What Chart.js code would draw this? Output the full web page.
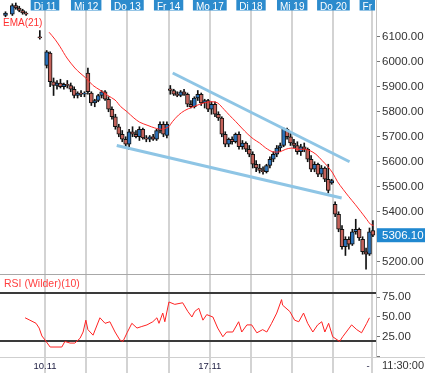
<!DOCTYPE html>
<html>
<head>
<meta charset="utf-8">
<script src="https://cdn.jsdelivr.net/npm/chart.js@4.4.1/dist/chart.umd.min.js"></script>
<style>
  html, body { margin: 0; padding: 0; background: #fff; }
  #wrap { position: relative; width: 425px; height: 373px; overflow: hidden; }
  #priceChart { position: absolute; left: 0; top: 0; }
  #rsiChart { position: absolute; left: 0; top: 275px; }
</style>
</head>
<body>
<div id="wrap">
  <canvas id="priceChart" width="425" height="275"></canvas>
  <canvas id="rsiChart" width="425" height="98"></canvas>
</div>
<script>
// Intraday candles, Mo 10.11 - Do 20.11 (12 slots per day)

const dayLabels = ["Di 11", "Mi 12", "Do 13", "Fr 14", "Mo 17", "Di 18", "Mi 19", "Do 20", "Fr"];
const dayStarts = [11.5, 23.5, 35.5, 47.5, 59.5, 71.5, 83.5, 95.5, 106.6];
const dateLabels = ["10.11", "17.11"];
const dateStarts = [11.5, 59.5];

const priceTicks = [5200, 5300, 5400, 5500, 5600, 5700, 5800, 5900, 6000, 6100];
const rsiTicks = [0, 25, 50, 75];
const rsiLevels = [80, 20];
const lastPrice = 5306.10;
const lastTime = "11:30:00";

const opens = [6185, null, 6190, 6225, 6215, 6205, 6195, null, null, null, 6100, null,
  5985, 6035, 5920, 5905, 5915, 5900, 5910, 5905, 5890, 5865, 5875, 5870,
  5955, 5875, 5835, 5845, 5865, 5880, 5850, 5810, 5780, 5740, 5710, 5690,
  5670, 5720, 5710, 5700, 5730, 5695, 5690, 5700, 5690, 5725, 5750, 5705,
  5892, 5885, 5870, 5865, 5880, 5870, 5830, 5820, 5855, 5870, 5835, 5845,
  5810, 5830, 5790, 5775, 5710, 5670, 5690, 5680, 5710, 5660, 5675, 5650,
  5630, 5590, 5575, 5565, 5560, 5585, 5610, 5630, 5655, 5665, 5730, 5700,
  5675, 5665, 5640, 5660, 5650, 5610, 5570, 5590, 5550, 5575, 5530, 5515,
  5430, 5390, 5330, 5260, 5290, 5270, 5320, 5330, 5290, 5240, 5230, 5325];
const highs = [6200, null, 6232, 6235, 6222, 6210, 6200, null, null, null, 6125, null,
  6045, 6040, 5935, 5925, 5930, 5915, 5925, 5915, 5900, 5880, 5885, 5880,
  5975, 5880, 5850, 5870, 5885, 5885, 5860, 5820, 5790, 5750, 5725, 5700,
  5730, 5740, 5725, 5740, 5735, 5705, 5705, 5710, 5730, 5760, 5760, 5760,
  5905, 5890, 5880, 5885, 5890, 5875, 5845, 5860, 5885, 5875, 5850, 5850,
  5840, 5840, 5800, 5780, 5720, 5695, 5700, 5715, 5720, 5685, 5680, 5665,
  5640, 5605, 5590, 5580, 5590, 5620, 5640, 5665, 5675, 5735, 5735, 5715,
  5690, 5680, 5670, 5675, 5655, 5625, 5600, 5595, 5585, 5580, 5590, 5530,
  5440, 5400, 5345, 5300, 5300, 5330, 5370, 5335, 5300, 5255, 5335, 5365];
const lows = [6180, null, 6185, 6210, 6200, 6190, 6185, null, null, null, 6090, null,
  5975, 5900, 5865, 5890, 5895, 5890, 5895, 5880, 5855, 5855, 5860, 5860,
  5870, 5825, 5820, 5840, 5855, 5845, 5800, 5770, 5730, 5700, 5680, 5660,
  5648, 5700, 5695, 5685, 5690, 5680, 5680, 5685, 5685, 5715, 5700, 5695,
  5870, 5865, 5860, 5860, 5865, 5820, 5815, 5815, 5845, 5825, 5815, 5800,
  5790, 5780, 5765, 5700, 5660, 5660, 5670, 5675, 5650, 5650, 5640, 5620,
  5575, 5560, 5555, 5550, 5555, 5575, 5600, 5620, 5640, 5660, 5690, 5665,
  5655, 5630, 5625, 5640, 5600, 5560, 5560, 5540, 5540, 5520, 5475, 5510,
  5380, 5320, 5250, 5225, 5250, 5265, 5310, 5285, 5230, 5170, 5225, 5300];
const closes = [6195, null, 6225, 6215, 6205, 6195, 6190, null, null, null, 6095, null,
  6040, 5920, 5905, 5915, 5900, 5910, 5905, 5890, 5865, 5875, 5870, 5875,
  5880, 5835, 5845, 5865, 5880, 5850, 5810, 5780, 5740, 5710, 5690, 5670,
  5720, 5710, 5700, 5730, 5695, 5690, 5700, 5690, 5725, 5750, 5710, 5750,
  5885, 5870, 5865, 5880, 5870, 5830, 5820, 5855, 5870, 5835, 5845, 5810,
  5830, 5790, 5775, 5710, 5670, 5690, 5680, 5710, 5660, 5675, 5650, 5630,
  5590, 5575, 5565, 5560, 5585, 5610, 5630, 5655, 5665, 5730, 5700, 5675,
  5665, 5640, 5660, 5650, 5610, 5570, 5590, 5550, 5575, 5530, 5485, 5525,
  5390, 5330, 5260, 5290, 5270, 5320, 5330, 5295, 5240, 5230, 5320, 5306];

// EMA(21)
const emaSlots = [12.7, 14.4, 15.9, 17.9, 20.2, 21.7, 23.4, 25.5, 27.5, 29.8, 31.9, 33.6, 35.4, 37.4,
  39.1, 41.5, 43.5, 45.5, 47.5, 48.6, 50.4, 52.2, 54.3, 56.6, 58.6, 60.4, 61.8, 63.6, 65.3, 67.1,
  68.8, 70.6, 72.3, 74.0, 75.8, 77.8, 79.9, 81.6, 83.4, 85.1, 87.1, 88.6, 90.4, 92.2, 93.9, 95.3,
  96.7, 98.3, 100.0, 101.8, 103.5, 104.9, 106.3, 107.2];
const emaValues = [6118, 6090, 6060, 6015, 5975, 5955, 5935, 5905, 5887, 5865, 5847, 5820, 5800, 5775,
  5758, 5745, 5735, 5730, 5740, 5760, 5787, 5805, 5818, 5830, 5838, 5840, 5835, 5810, 5785, 5760,
  5735, 5710, 5690, 5675, 5655, 5640, 5640, 5650, 5655, 5650, 5650, 5645, 5630, 5605, 5580, 5555,
  5520, 5490, 5460, 5430, 5400, 5375, 5350, 5345];

// trend channel
const upperSlots = [48.7, 100.2];
const upperValues = [5955, 5600];
const lowerSlots = [32.4, 97.9];
const lowerValues = [5665, 5455];

// RSI (Wilder)(10)
const rsiSlots = [5.7, 7.1, 8.9, 9.8, 10.6, 11.5, 13, 16.4, 17.3, 18.8, 20.2, 21.7, 22.6, 23.4, 24,
  25.5, 27.5, 29, 30.4, 31.9, 33.3, 34.2, 35.4, 36.8, 38.3, 39.7, 41.2, 42.9, 44.1, 44.7,
  45.8, 46.4, 47.6, 49.3, 51.6, 53.1, 54.3, 55.1, 56.3, 57.5, 58.6, 60.4, 61.8, 63.3, 64.4,
  66.2, 67.9, 68.8, 70.3, 71.7, 73.2, 74.9, 76.1, 77.5, 79, 80.4, 80.7, 82.8, 84.2, 85.4,
  86.8, 88, 89.5, 90.9, 92.1, 93, 94.1, 95.3, 97.3, 98.2, 100.8, 102.3, 103.7, 105.2, 106];
const rsiValues = [49, 46, 42, 36, 26, 21, 12, 12, 19, 17, 17, 23, 31, 46, 34,
  27, 49, 42, 44, 31, 21, 19, 30, 42, 36, 38, 40, 44, 49, 42,
  55, 44, 69, 66, 68, 57, 50, 57, 61, 46, 53, 50, 36, 25, 31,
  31, 44, 31, 40, 40, 30, 34, 31, 42, 55, 72, 65, 57, 46, 44,
  55, 42, 31, 40, 44, 31, 42, 25, 19, 25, 40, 34, 30, 42, 49];

const FONT = "'Liberation Sans', Arial, sans-serif";
const X_MIN = -1.6, X_MAX = 107.9;

const wicks = [], bodies = [], bodyColors = [];
opens.forEach((o, i) => {
  if (o === null) return;
  wicks.push({ x: i, y: [lows[i], highs[i]] });
  bodies.push({ x: i, y: [o, closes[i]] });
  bodyColors.push(closes[i] > o ? "#2b73bb" : (closes[i] < o ? "#c4625a" : "#999"));
});
const pts = (xs, ys) => xs.map((v, i) => ({ x: v, y: ys[i] }));

// keep the plot area flush with the canvas edges
function fitRightAxis(s) {
  s.width = 49;
  s.paddingTop = 0;
  s.paddingBottom = 0;
}

function drawDayLines(chart) {
  const { ctx, scales: { x } } = chart;
  ctx.save();
  ctx.strokeStyle = "#d3d3d3";
  ctx.lineWidth = 2;
  dayStarts.forEach(d => {
    const px = Math.round(x.getPixelForValue(d));
    ctx.beginPath();
    ctx.moveTo(px, 0);
    ctx.lineTo(px, chart.height);
    ctx.stroke();
  });
  ctx.restore();
}

const priceDecor = {
  id: "priceDecor",
  beforeDatasetsDraw(chart) { drawDayLines(chart); },
  afterDraw(chart) {
    const { ctx, chartArea, scales: { x, y } } = chart;
    ctx.save();
    // day header boxes
    ctx.font = "10px " + FONT;
    ctx.textBaseline = "alphabetic";
    dayLabels.forEach((lab, i) => {
      const px = x.getPixelForValue(dayStarts[i]);
      const w = ctx.measureText(lab).width + 6;
      let left = px - w / 2;
      if (left + w > chartArea.right - 1) left = chartArea.right - 1 - w;
      ctx.fillStyle = "#2c8bcd";
      ctx.fillRect(left, 0, w, 10.5);
      ctx.fillStyle = "#fff";
      ctx.fillText(lab, left + 3, 9.5);
    });
    // indicator label
    ctx.fillStyle = "#ff3030";
    ctx.fillText("EMA(21)", 3, 26);
    // last price box
    const py = y.getPixelForValue(lastPrice);
    ctx.fillStyle = "#2088d0";
    ctx.fillRect(chartArea.right + 1, py - 7, chart.width - chartArea.right - 1, 14);
    ctx.fillStyle = "#fff";
    ctx.font = "11.5px " + FONT;
    ctx.textBaseline = "middle";
    ctx.fillText(lastPrice.toFixed(2), chartArea.right + 6, py + 0.5);
    // panel separator
    ctx.strokeStyle = "#a8a8a8";
    ctx.lineWidth = 1;
    ctx.beginPath();
    ctx.moveTo(0, chartArea.bottom + 0.5);
    ctx.lineTo(chart.width, chartArea.bottom + 0.5);
    ctx.stroke();
    ctx.restore();
  }
};

new Chart(document.getElementById("priceChart"), {
  type: "bar",
  data: {
    datasets: [
      { type: "line", data: pts(upperSlots, upperValues), borderColor: "#8ec5e5", borderWidth: 3, pointRadius: 0, order: 0 },
      { type: "line", data: pts(lowerSlots, lowerValues), borderColor: "#8ec5e5", borderWidth: 3, pointRadius: 0, order: 0 },
      { type: "line", data: pts(emaSlots, emaValues), borderColor: "#ff2a2a", borderWidth: 1, pointRadius: 0, tension: 0.3, order: 1 },
      { type: "bar", data: bodies, backgroundColor: bodyColors, borderColor: "#111", borderWidth: 1,
        borderSkipped: false, barThickness: 4, grouped: false, order: 2 },
      { type: "bar", data: wicks, backgroundColor: "#111", barThickness: 1, grouped: false, order: 3 }
    ]
  },
  options: {
    responsive: false,
    animation: false,
    layout: { padding: { top: 0, left: 0, right: 0, bottom: 1 } },
    plugins: { legend: { display: false }, tooltip: { enabled: false } },
    scales: {
      x: { type: "linear", min: X_MIN, max: X_MAX, offset: false, display: false },
      y: {
        position: "right",
        min: 5151, max: 6247,
        afterFit: fitRightAxis,
        afterBuildTicks(s) { s.ticks = priceTicks.map(v => ({ value: v })); },
        grid: { drawOnChartArea: false, drawTicks: true, tickLength: 4, color: "#777" },
        border: { display: true, color: "#c4c4c4" },
        ticks: { padding: 2, color: "#333", font: { family: FONT, size: 11.5 },
          callback: v => Number(v).toFixed(2) }
      }
    }
  },
  plugins: [priceDecor]
});

const rsiDecor = {
  id: "rsiDecor",
  beforeDatasetsDraw(chart) {
    drawDayLines(chart);
    const { ctx, chartArea, scales: { y } } = chart;
    ctx.save();
    ctx.strokeStyle = "#3a3a3a";
    ctx.lineWidth = 2;
    rsiLevels.forEach(l => {
      const py = Math.round(y.getPixelForValue(l));
      ctx.beginPath();
      ctx.moveTo(chartArea.left, py);
      ctx.lineTo(chartArea.right, py);
      ctx.stroke();
    });
    ctx.restore();
  },
  afterDraw(chart) {
    const { ctx, chartArea, scales: { x } } = chart;
    ctx.save();
    ctx.font = "10.5px " + FONT;
    ctx.fillStyle = "#ff4040";
    ctx.fillText("RSI (Wilder)(10)", 4, 12);
    ctx.strokeStyle = "#cfcfcf";
    ctx.lineWidth = 1;
    ctx.beginPath();
    ctx.moveTo(0, chartArea.bottom + 0.5);
    ctx.lineTo(chart.width, chartArea.bottom + 0.5);
    ctx.stroke();
    ctx.fillStyle = "#1c1c40";
    ctx.font = "9.5px " + FONT;
    ctx.textAlign = "center";
    dateLabels.forEach((lab, i) => {
      ctx.fillText(lab, x.getPixelForValue(dateStarts[i]), chartArea.bottom + 12);
    });
    ctx.fillText("-", chartArea.right - 8, chartArea.bottom + 12);
    ctx.textAlign = "left";
    ctx.fillStyle = "#333";
    ctx.font = "11px " + FONT;
    ctx.fillText(lastTime, chartArea.right + 6, chartArea.bottom + 12);
    ctx.restore();
  }
};

new Chart(document.getElementById("rsiChart"), {
  type: "line",
  data: {
    datasets: [
      { data: pts(rsiSlots, rsiValues), borderColor: "#ff2222", borderWidth: 1, pointRadius: 0 }
    ]
  },
  options: {
    responsive: false,
    animation: false,
    layout: { padding: 0 },
    plugins: { legend: { display: false }, tooltip: { enabled: false } },
    scales: {
      x: {
        type: "linear", min: X_MIN, max: X_MAX, offset: false,
        afterFit(s) { s.height = 16; },
        grid: { display: false },
        border: { display: false },
        ticks: { display: false }
      },
      y: {
        position: "right",
        min: -0.63, max: 103.16,
        afterFit: fitRightAxis,
        afterBuildTicks(s) { s.ticks = rsiTicks.map(v => ({ value: v })); },
        grid: { drawOnChartArea: false, drawTicks: true, tickLength: 4, color: "#777" },
        border: { display: true, color: "#c4c4c4" },
        ticks: { padding: 2, color: "#333", font: { family: FONT, size: 11.5 },
          callback: v => (v === 0 ? "" : Number(v).toFixed(2)) }
      }
    }
  },
  plugins: [rsiDecor]
});
</script>
</body>
</html>
